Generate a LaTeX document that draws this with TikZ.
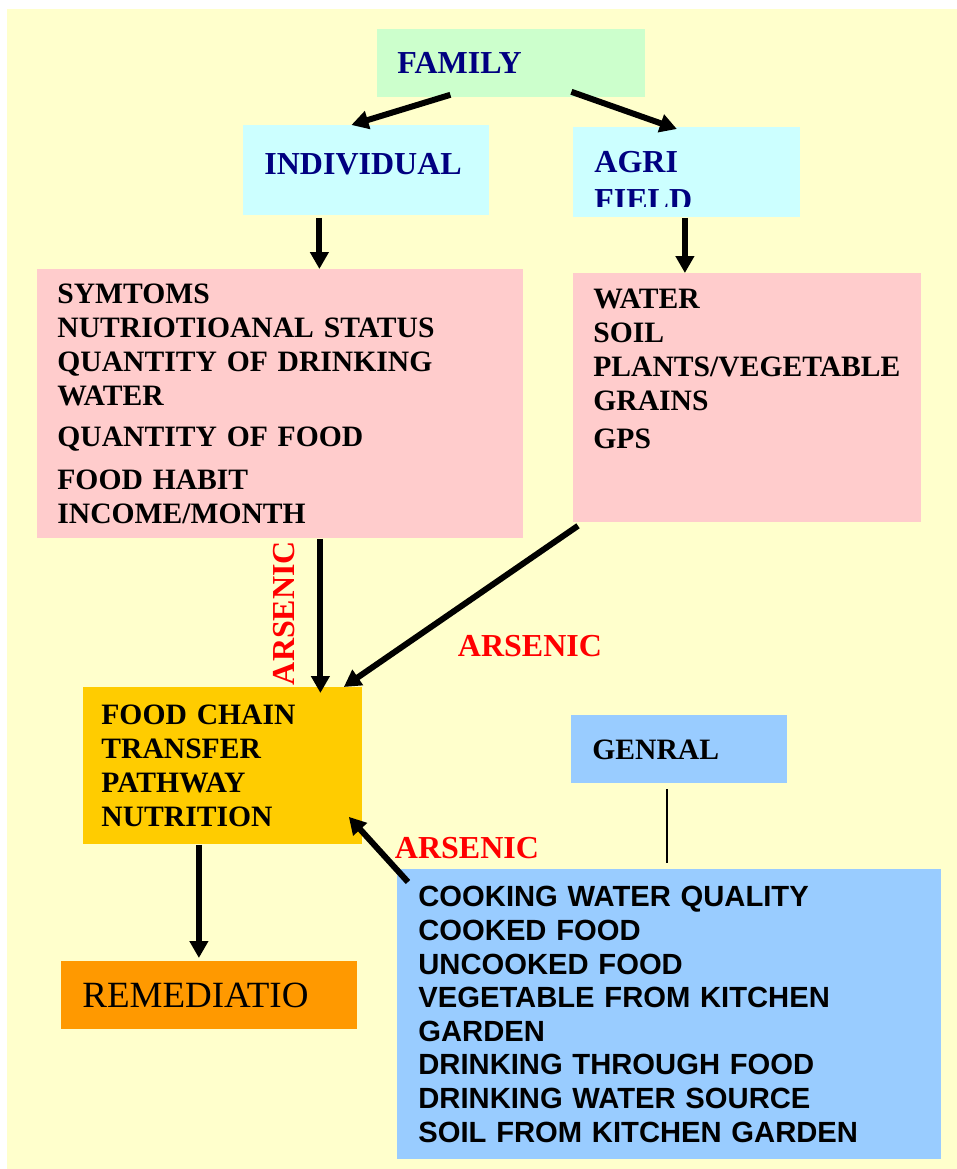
\documentclass[tikz,border=0pt]{standalone}
\usepackage{fontspec}
\setmainfont{Liberation Serif}
\newfontfamily\arialfont{Liberation Sans}
\usetikzlibrary{arrows.meta}
\definecolor{bgyellow}{RGB}{255,255,204}
\definecolor{boxgreen}{RGB}{204,255,204}
\definecolor{boxcyan}{RGB}{204,255,255}
\definecolor{boxpink}{RGB}{255,204,204}
\definecolor{boxgold}{RGB}{255,204,0}
\definecolor{boxorange}{RGB}{255,153,0}
\definecolor{boxblue}{RGB}{153,204,255}
\definecolor{navy}{RGB}{0,0,128}

\begin{document}
\begin{tikzpicture}[x=0.5pt,y=-0.5pt,
		box/.style={anchor=north west,inner xsep=10pt,inner ysep=0pt,align=left,font=\bfseries\fontsize{14.8pt}{17pt}\selectfont},
		headfont/.style={text=navy,font=\bfseries\fontsize{16pt}{19pt}\selectfont},
		arr/.style={line width=3pt,-{Triangle[width=9pt,length=8.5pt]}},
		arslabel/.style={text=red,inner sep=0pt,font=\bfseries\fontsize{16pt}{18pt}\selectfont}]
		% page and background
		\useasboundingbox (0,0) rectangle (957,1169);
		\fill[bgyellow] (7,9) rectangle (957,1169);
		% top level
		\node[box,fill=boxgreen,headfont,text width=114pt,minimum height=34pt] (family) at (377,29) {FAMILY};
		\node[box,fill=boxcyan,headfont,inner xsep=10.5pt,text width=102pt,minimum height=45pt,text depth=6.5pt] (individual) at (243,125) {INDIVIDUAL};
		\node[box,fill=boxcyan,text width=92.5pt,minimum height=45pt,inner xsep=10.5pt] (agri) at (573,127) {};
		\begin{scope}
			\clip (573,127) rectangle (800,206);
			\node[anchor=north west,inner sep=0pt,align=left,headfont] (agritxt) at (594,151) {AGRI\\FIELD};
		\end{scope}
		% what is looked at
		\node[box,fill=boxpink,text width=223pt,minimum height=134.5pt] (symptoms) at (37,269)
			{SYMTOMS\\NUTRIOTIOANAL STATUS\\QUANTITY OF DRINKING\\WATER\\[3.5pt]QUANTITY OF FOOD\\[4.5pt]FOOD HABIT\\INCOME/MONTH};
		\node[box,fill=boxpink,text width=154pt,minimum height=124.5pt] (field) at (573,273) {};
		\node[box,inner sep=0pt,text width=154pt] (fieldtxt) at (593,289)
			{WATER\\SOIL\\PLANTS/VEGETABLE\\GRAINS\\[2pt]GPS};
		% middle and bottom
		\node[box,fill=boxgold,inner xsep=9pt,text width=121.5pt,minimum height=78.5pt] (foodchain) at (83,687)
			{FOOD CHAIN\\TRANSFER\\PATHWAY\\NUTRITION};
		\node[box,fill=boxorange,inner xsep=10.5pt,text width=127pt,minimum height=34pt,font=\fontsize{18.5pt}{20pt}\selectfont] (remediation) at (61,961) {REMEDIATIO};
		\node[box,fill=boxblue,inner xsep=10.5pt,text width=87pt,minimum height=34pt] (genral) at (571,715) {GENRAL};
		\node[box,fill=boxblue,inner xsep=10.5pt,text width=251pt,minimum height=145pt,font=\arialfont\bfseries\fontsize{14.6pt}{16.8pt}\selectfont] (home) at (397,869)
			{COOKING WATER QUALITY\\COOKED FOOD\\UNCOOKED FOOD\\VEGETABLE FROM KITCHEN\\GARDEN\\DRINKING THROUGH FOOD\\DRINKING WATER SOURCE\\SOIL FROM KITCHEN GARDEN\\[-4pt]};
		% arrows
		\draw[arr] ([xshift=-30.5pt,yshift=1.5pt]family.south) -- ([xshift=-7.5pt]individual.north);
		\draw[arr] ([xshift=30pt,yshift=3pt]family.south) -- ([xshift=-5pt,yshift=-1pt]agri.north);
		\draw[arr] ([xshift=-23.5pt,yshift=-1pt]individual.south) -- ([xshift=-23.5pt]individual.south |- symptoms.north);
		\draw[arr] ([xshift=-1pt]agri.south) -- ([xshift=-1pt]agri.south |- field.north);
		\draw[arr] ([xshift=20pt]symptoms.south) -- ([xshift=20pt,yshift=-3pt]symptoms.south |- foodchain.north);
		\draw[arr] ([xshift=2.5pt,yshift=-1.5pt]field.south west) -- ([xshift=-9.5pt]foodchain.north east);
		\draw[arr] ([xshift=5.5pt,yshift=-6.5pt]home.north west) -- ([xshift=-7pt,yshift=14pt]foodchain.south east);
		\draw[arr] ([xshift=-12pt]foodchain.south) -- ([xshift=-12pt,yshift=1.5pt]foodchain.south |- remediation.north);
		\draw[line width=1pt,shorten <=2.5pt,shorten >=3pt] ([xshift=-6pt]genral.south) -- ([xshift=-6pt]genral.south |- home.north);
		% labels
		\node[arslabel,rotate=90] (ars1) at (284,613) {ARSENIC};
		\node[arslabel] (ars2) at (530,646) {ARSENIC};
		\node[arslabel] (ars3) at (467,848) {ARSENIC};
	\end{tikzpicture}
\end{document}
